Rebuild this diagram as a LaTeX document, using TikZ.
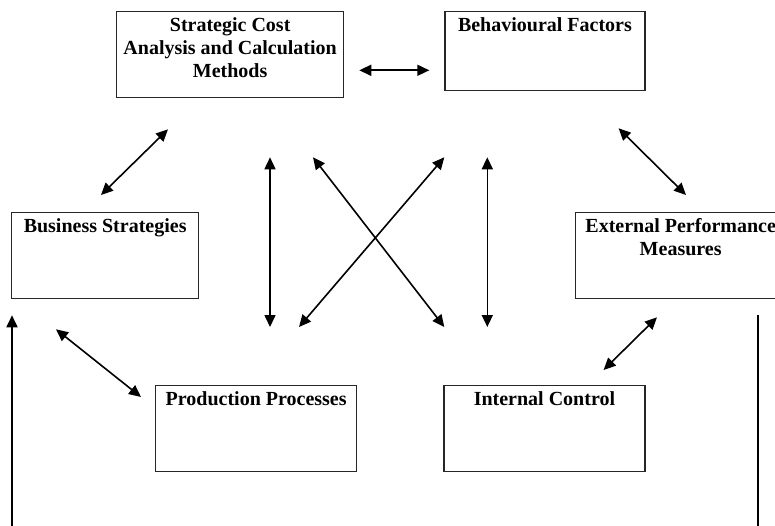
\documentclass[tikz,border=0pt]{standalone}
\usepackage{fontspec}
\setmainfont{Liberation Serif}
\usetikzlibrary{positioning, arrows.meta, calc}

\newcommand{\boxtext}[3]{\parbox[t][#2][t]{#1}{\centering\rule{0pt}{20pt}#3}}

\begin{document}
\begin{tikzpicture}[
    x=1pt, y=-1pt,
    box/.style={draw=black!85, line width=1.3pt, inner sep=0pt, anchor=north west, font=\fontsize{20}{23}\selectfont\bfseries},
    arr/.style={{Triangle[length=12pt,width=11pt]}-{Triangle[length=12pt,width=11pt]}, line width=1.6pt},
    feed/.style={line width=1.8pt}
]
\useasboundingbox (0,0) rectangle (775,526);
\clip (0,0) rectangle (775,526);

% Top row
\node[box] (sca) at (116,11) {\boxtext{227pt}{86pt}{Strategic Cost\\Analysis and Calculation\\Methods}};
\node[box, right=100pt of sca.north east, anchor=north west] (behav) {\boxtext{200pt}{79pt}{Behavioural Factors}};

% Middle row
\node[box] (bs) at (11,212) {\boxtext{187pt}{86pt}{Business Strategies}};
\node[box] (epm) at (575,212) {\boxtext{210pt}{86pt}{External Performance\\Measures}};

% Bottom row
\node[box] (pp) at (155,385) {\boxtext{201pt}{86pt}{Production Processes}};
\node[box, right=86pt of pp.north east, anchor=north west] (ic) {\boxtext{201pt}{86pt}{Internal Control}};

% Links around the outside
\draw[arr] ($(sca.south east)+(15,-28)$) -- ($(behav.south west)+(-15,-21)$);
\draw[arr] ($(sca.south west)+(52,31)$) -- ($(bs.north west)+(90,-17)$);
\draw[arr] ($(behav.south east)+(-27,37)$) -- ($(epm.north west)+(111,-17)$);
\draw[arr] ($(bs.south west)+(45,30)$) -- ($(pp.north west)+(-14,12)$);
\draw[arr] ($(epm.south west)+(82,18)$) -- ($(ic.north east)+(-42,-15)$);

% Links through the middle
\draw[arr] ($(sca.south west)+(154,59)$) -- ($(pp.north west)+(115,-58)$);
\draw[arr] ($(sca.south west)+(197,59)$) -- ($(ic.north west)+(1,-58)$);
\draw[arr] ($(behav.south west)+(0,66)$) -- ($(pp.north west)+(144,-58)$);
\draw[arr] ($(behav.south west)+(43,66)$) -- ($(ic.north west)+(44,-58)$);

% Feedback lines
\coordinate (feedL) at ($(bs.south west)+(1,260)$);
\coordinate (feedR) at ($(epm.south west)+(183,260)$);
\draw[feed, -{Triangle[length=12pt,width=11pt]}] (feedL) -- ($(bs.south west)+(1,16)$);
\draw[feed] ($(epm.south west)+(183,16)$) -- (feedR);

\end{tikzpicture}
\end{document}
